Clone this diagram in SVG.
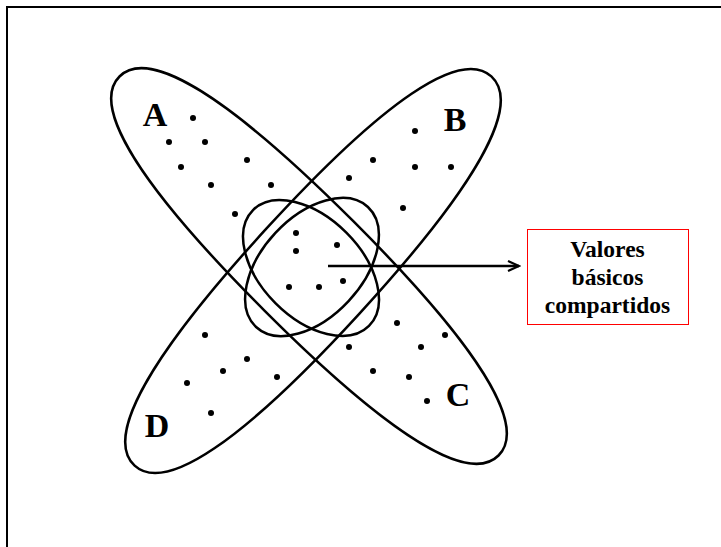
<svg xmlns="http://www.w3.org/2000/svg" width="721" height="547" viewBox="0 0 721 547">
<defs>
<style>
.el{fill:none;stroke:#000;stroke-width:2.5}
.dot{fill:#000}
.lbl{font-family:"Liberation Serif","Times New Roman",serif;font-weight:bold;font-size:34px;fill:#000;text-anchor:middle}
.box{font-family:"Liberation Serif","Times New Roman",serif;font-weight:bold;font-size:23.5px;fill:#000;text-anchor:middle}
</style>
<marker id="ah" markerWidth="14" markerHeight="12" refX="12" refY="6" orient="auto" markerUnits="userSpaceOnUse">
<path d="M1,1 L12,6 L1,11" fill="none" stroke="#000" stroke-width="2.2"/>
</marker>
</defs>
<rect width="721" height="547" fill="#fff"/>
<rect x="7" y="7" width="740" height="570" fill="none" stroke="#000" stroke-width="2"/>
<g id="ellipse-AC"><path class="el" transform="translate(309 266) rotate(45)" d="M268,0 C268,41.6 176.9,63 0,63 C-176.9,63 -268,41.6 -268,0 C-268,-41.6 -176.9,-63 0,-63 C176.9,-63 268,-41.6 268,0 Z"/></g>
<g id="ellipse-BD"><path class="el" transform="translate(313 271) rotate(-47.5)" d="M264,0 C264,41.6 174.2,63 0,63 C-174.2,63 -264,41.6 -264,0 C-264,-41.6 -174.2,-63 0,-63 C174.2,-63 264,-41.6 264,0 Z"/></g>
<g id="center-1"><ellipse class="el" cx="312" cy="267" rx="82" ry="50" transform="rotate(-47 312 267)"/></g>
<g id="center-2"><ellipse class="el" cx="311" cy="268" rx="82" ry="50" transform="rotate(45 311 268)"/></g>
<g id="dots">
<circle class="dot" cx="193" cy="118" r="3"/>
<circle class="dot" cx="169" cy="142" r="3"/>
<circle class="dot" cx="205" cy="142" r="3"/>
<circle class="dot" cx="181" cy="167" r="3"/>
<circle class="dot" cx="247" cy="160" r="3"/>
<circle class="dot" cx="211" cy="185" r="3"/>
<circle class="dot" cx="271" cy="185" r="3"/>
<circle class="dot" cx="235" cy="214" r="3"/>
<circle class="dot" cx="415" cy="131" r="3"/>
<circle class="dot" cx="373" cy="160" r="3"/>
<circle class="dot" cx="415" cy="167" r="3"/>
<circle class="dot" cx="451" cy="167" r="3"/>
<circle class="dot" cx="349" cy="178" r="3"/>
<circle class="dot" cx="403" cy="208" r="3"/>
<circle class="dot" cx="296" cy="233" r="3"/>
<circle class="dot" cx="296" cy="251" r="3"/>
<circle class="dot" cx="337" cy="245" r="3"/>
<circle class="dot" cx="289" cy="287" r="3"/>
<circle class="dot" cx="319" cy="287" r="3"/>
<circle class="dot" cx="343" cy="281" r="3"/>
<circle class="dot" cx="205" cy="335" r="3"/>
<circle class="dot" cx="247" cy="359" r="3"/>
<circle class="dot" cx="223" cy="371" r="3"/>
<circle class="dot" cx="187" cy="383" r="3"/>
<circle class="dot" cx="277" cy="377" r="3"/>
<circle class="dot" cx="211" cy="413" r="3"/>
<circle class="dot" cx="397" cy="323" r="3"/>
<circle class="dot" cx="445" cy="335" r="3"/>
<circle class="dot" cx="349" cy="347" r="3"/>
<circle class="dot" cx="421" cy="347" r="3"/>
<circle class="dot" cx="373" cy="371" r="3"/>
<circle class="dot" cx="409" cy="377" r="3"/>
<circle class="dot" cx="427" cy="401" r="3"/>
</g>
<g id="labels">
<text class="lbl" x="155" y="126">A</text>
<text class="lbl" x="455" y="131">B</text>
<text class="lbl" x="458" y="406">C</text>
<text class="lbl" x="157" y="437">D</text>
</g>
<g id="connectors">
<line x1="328" y1="266" x2="519" y2="266" stroke="#000" stroke-width="2.5" marker-end="url(#ah)"/>
</g>
<g id="box">
<rect x="527.5" y="229.5" width="161" height="95" fill="#fff" stroke="#ff0000" stroke-width="1"/>
<text class="box" x="607.5" y="257">Valores</text>
<text class="box" x="607.5" y="285">básicos</text>
<text class="box" x="607.5" y="313">compartidos</text>
</g>
</svg>
